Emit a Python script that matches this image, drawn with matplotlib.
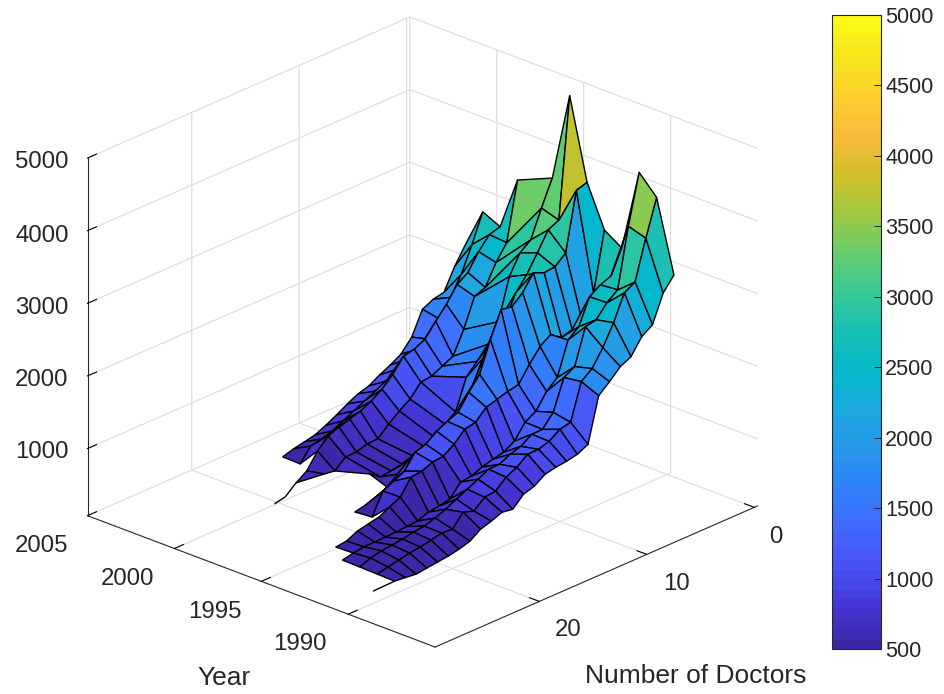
import matplotlib
matplotlib.use("Agg")
import matplotlib.pyplot as plt
import numpy as np
from matplotlib.cm import ScalarMappable
from matplotlib.colors import LinearSegmentedColormap, Normalize
from mpl_toolkits.mplot3d.art3d import Line3DCollection, Poly3DCollection

plt.rcParams['font.family'] = ['Liberation Sans', 'DejaVu Sans']

n = np.nan
years = [1989, 1990, 1991, 1992, 1993, 1994, 1995, 1996, 1998, 1999, 2000, 2001]
doctors = list(range(1, 30))

r1989 = [2979, 2796, 2423, 2323, 2113, 2040, 1898, 1772, 1165, 1092, 1061, 1043, 1012, 912, 866, 725, 747, 690, 644, 542, 499, 468, 450, 432, 414, 431, 447, 443, 439]
r1990 = [3958, 3461, 2922, 2835, 2489, 2211, 1988, 1874, 1377, 1345, 1245, 1199, 1196, 1082, 1009, 882, 864, 737, 787, 619, 629, 596, 566, 548, 516, 484, 453, n, n]
r1991 = [4210, 3535, 2723, 2609, 2440, 2408, 1925, 1839, 1424, 1255, 1251, 1151, 1106, 1033, 1029, 957, 884, 812, 738, 681, 634, 617, 585, 568, 552, 519, 460, n, n]
r1992 = [3079, 2760, 2701, 2601, 2254, 2136, 1684, 1557, 1348, 1262, 1067, 978, 948, 903, 844, 826, 658, 626, 608, 549, 540, 527, 523, 519, 517, 497, 466, n, n]
r1993 = [3236, 2437, 2064, 2060, 2014, 2120, 2020, 1838, 1628, 1596, 1551, 1507, 1365, 1334, 1192, 1092, 1074, 1016, 998, 788, 716, 643, 612, 580, 508, 490, n, n, n]
r1994 = [3804, 3759, 2960, 2833, 2815, 2879, 2670, 2542, 2566, 2219, 1804, 1622, 1412, 1352, 1281, 1167, 1122, 926, 853, 781, 489, n, n, n, n, n, n, n, n]
r1995 = [4906, 3258, 3186, 2935, 2698, 2516, 2210, 2000, 1818, 1512, 1235, 1094, 953, 880, 900, 844, 731, 617, 545, 499, 468, n, n, n, n, n, n, n, n]
r1996 = [3680, 3333, 2959, 2844, 2581, 2029, 1778, 1609, 1455, 1041, 940, 826, 767, 695, 649, 618, 600, 706, n, n, n, n, n, n, n, n, n, n, n]
r1998 = [3472, 2674, 2464, 2186, 2127, 1740, 1434, 1362, 1289, 1271, 1103, 1003, 888, 750, 744, 698, 694, 567, 590, 607, n, n, n, n, n, n, n, n, n]
r1999 = [2739, 2694, 2525, 2302, 2202, 1992, 1824, 1641, 1569, 1538, 1350, 1213, 1114, 1042, 996, 951, 892, 751, 542, 442, 314, 283, n, n, n, n, n, n, n]
r2000 = [2853, 2467, 2120, 1869, 1633, 1423, 1350, 1278, 1205, 1105, 1033, 960, 888, 815, 742, 696, 665, 483, n, n, n, n, n, n, n, n, n, n, n]
r2001 = [2312, 2076, 1784, 1753, 1680, 1361, 1192, 1106, 1033, 947, 903, 829, 743, 665, 598, 566, 535, 490, n, n, n, n, n, n, n, n, n, n, n]

year_labels = ['2005', '2000', '1995', '1990']
doctor_labels = ['0', '10', '20']
z_labels = ['5000', '4000', '3000', '2000', '1000']

parula = LinearSegmentedColormap.from_list('parula', [
    (0.2422, 0.1504, 0.6603), (0.2706, 0.2147, 0.8364), (0.2810, 0.3228, 0.9579),
    (0.2602, 0.4123, 0.9952), (0.1834, 0.5074, 0.9798), (0.1540, 0.5902, 0.9218),
    (0.1113, 0.6635, 0.8763), (0.0036, 0.7203, 0.7917), (0.0964, 0.7500, 0.7120),
    (0.2161, 0.7843, 0.5923), (0.3909, 0.8029, 0.4354), (0.6174, 0.7876, 0.2612),
    (0.8203, 0.7498, 0.1535), (0.9728, 0.7298, 0.2394), (0.9892, 0.8074, 0.1816),
    (0.9597, 0.8949, 0.1132), (0.9769, 0.9839, 0.0805)], N=64)
norm = Normalize(500, 5000)

Z = np.array([r1989, r1990, r1991, r1992, r1993, r1994, r1995, r1996, r1998, r1999, r2000, r2001])
Y, D = np.meshgrid(years, doctors, indexing='ij')

faces = []
values = []
loose = []
for i in range(len(years) - 1):
    for j in range(len(doctors) - 1):
        idx = [(i, j), (i + 1, j), (i + 1, j + 1), (i, j + 1)]
        zs = [Z[k] for k in idx]
        if np.all(np.isfinite(zs)):
            faces.append([(Y[k], D[k], Z[k]) for k in idx])
            # flat colour comes from one corner of the cell, not the mean
            values.append(Z[i, j + 1])
# row edges with no face next to them are still drawn
for i in range(len(years)):
    for j in range(len(doctors) - 1):
        if not (np.isfinite(Z[i, j]) and np.isfinite(Z[i, j + 1])):
            continue
        above = i + 1 < len(years) and np.isfinite(Z[i + 1, j]) and np.isfinite(Z[i + 1, j + 1])
        below = i > 0 and np.isfinite(Z[i - 1, j]) and np.isfinite(Z[i - 1, j + 1])
        if not above and not below:
            loose.append([(Y[i, j], D[i, j], Z[i, j]), (Y[i, j + 1], D[i, j + 1], Z[i, j + 1])])

fig = plt.figure(figsize=(9.45, 6.94), dpi=100)
W = 680
ax = fig.add_axes([73.3 / 945, 12.8 / 694, W / 945, W / 694], projection='3d', proj_type='ortho')
ax.set_box_aspect((474, 473, 391), zoom=753.6 / W)
ax.view_init(elev=24, azim=132.9)
ax.set_xlim(1985, 2005, view_margin=0)
ax.set_ylim(-0.3, 29.7, view_margin=0)
ax.set_zlim(76, 5000, view_margin=0)
ax.patch.set_alpha(0)

surf = Poly3DCollection(faces, facecolors=parula(norm(values)), edgecolors='black', linewidths=1.0, zsort='average')
ax.add_collection3d(surf)
ax.add_collection3d(Line3DCollection(loose, colors='black', linewidths=1.0))

ax.set_xticks([1990, 1995, 2000, 2005])
ax.set_yticks([0, 10, 20])
ax.set_zticks([1000, 2000, 3000, 4000, 5000])
ax.set_xticklabels([])
ax.set_yticklabels([])
ax.set_zticklabels([])
ax.zaxis.set_ticks_position('upper')

for axis in (ax.xaxis, ax.yaxis, ax.zaxis):
    axis.set_pane_color((1, 1, 1, 1))
    axis.pane.set_edgecolor((1, 1, 1, 0))
    axis.line.set_color('#262626')
    axis.line.set_linewidth(0.8)
    axis._axinfo['grid'].update(color='#dedede', linewidth=0.9)
    axis._axinfo['tick'].update(inward_factor=0.0, outward_factor=0.35, linewidth={True: 0.8, False: 0.5}, color='#262626')

ink = '#262626'
for s, px, py in zip(year_labels, [42, 128, 215, 300], [546, 579, 612, 644]):
    fig.text(px / 945, 1 - py / 694, s, fontsize=17.3, color=ink, ha='center', va='center')
for s, px, py in zip(doctor_labels, [776, 677, 568], [537, 584, 630]):
    fig.text(px / 945, 1 - py / 694, s, fontsize=17.3, color=ink, ha='center', va='center')
for s, py in zip(z_labels, [162, 236, 308, 380, 452]):
    fig.text(42 / 945, 1 - py / 694, s, fontsize=17.3, color=ink, ha='center', va='center')
fig.text(224 / 945, 1 - 678 / 694, 'Year', fontsize=19, color=ink, ha='center', va='center')
fig.text(696 / 945, 1 - 676 / 694, 'Number of Doctors', fontsize=19, color=ink, ha='center', va='center')

cax = fig.add_axes([832 / 945, 45 / 694, 49 / 945, 634 / 694])
cb = fig.colorbar(ScalarMappable(norm=norm, cmap=parula), cax=cax)
cb.set_ticks(list(range(500, 5001, 500)))
cb.ax.tick_params(direction='in', length=5, width=0.7, labelsize=15.6, colors=ink, pad=3)
cb.outline.set_edgecolor(ink)
cb.outline.set_linewidth(0.8)

fig.savefig('out.png', dpi=100)
